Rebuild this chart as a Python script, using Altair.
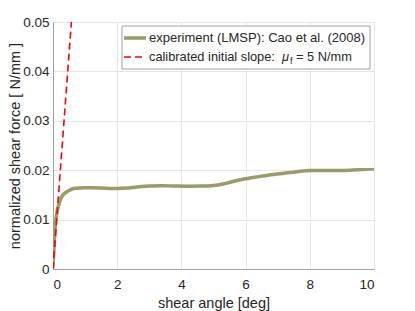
import altair as alt
import pandas as pd

# experiment (LMSP): Cao et al. (2008)
angle = [0, 0.03, 0.06, 0.1, 0.13, 0.17, 0.21, 0.27, 0.34, 0.42, 0.5, 0.6, 0.71,
         0.85, 1.0, 1.2, 1.5, 1.8, 2.0, 2.3, 2.6, 3.0, 3.4, 3.8, 4.2, 4.6, 5.0,
         5.3, 5.6, 6.0, 6.4, 6.8, 7.2, 7.6, 8.0, 8.5, 9.0, 9.5, 10.0]
force = [0.0003, 0.004, 0.0078, 0.0105, 0.0117, 0.0128, 0.0137, 0.0146, 0.0152,
         0.0156, 0.0159, 0.0162, 0.01635, 0.01642, 0.01645, 0.01643, 0.01638,
         0.01632, 0.0163, 0.01638, 0.0166, 0.01682, 0.01686, 0.0168, 0.01676,
         0.01678, 0.0169, 0.0172, 0.0177, 0.01826, 0.0187, 0.0191, 0.0194,
         0.0197, 0.01994, 0.01995, 0.01994, 0.0201, 0.0203]

# calibrated initial slope (mu_f = 5 N/mm per rad)
slope_angle = [0, 0.573]
slope_force = [0, 0.05]

x_ticks = [0, 2, 4, 6, 8, 10]
y_ticks = [0, 0.01, 0.02, 0.03, 0.04, 0.05]

legend_labels = ["experiment (LMSP): Cao et al. (2008)", "calibrated initial slope:"]

OLIVE = "#9b9a6a"
TXT = "#262626"
FONT = "Liberation Sans"

exp_df = pd.DataFrame({"angle": angle, "force": force})
slope_df = pd.DataFrame({"angle": slope_angle, "force": slope_force})
one = pd.DataFrame({"k": [0]})

xs = alt.X("angle:Q", scale=alt.Scale(domain=[0, 10], nice=False, zero=False),
           axis=alt.Axis(values=x_ticks, title="shear angle [deg]", labelPadding=8,
                         titlePadding=6, format="d"))
ys = alt.Y("force:Q", scale=alt.Scale(domain=[0, 0.05], nice=False),
           axis=alt.Axis(values=y_ticks, title="normalized shear force  [ N/mm ]",
                         labelPadding=4, titleX=-38, titleY=123.5, titleAngle=270,
                         titleAlign="center", titleBaseline="middle",
                         labelExpr="datum.value == 0 ? '0' : format(datum.value, '.2f')"))

exp_line = alt.Chart(exp_df).mark_line(color=OLIVE, strokeWidth=3.5,
                                       interpolate="monotone", clip=True).encode(x=xs, y=ys)
slope_line = alt.Chart(slope_df).mark_line(color="#ff0000", strokeWidth=1.6,
                                           strokeDash=[7, 4], clip=True).encode(x=xs, y=ys)

# legend box
box = alt.Chart(one).mark_rect(fill="white", stroke="#a0a0a0", strokeWidth=1).encode(
    x=alt.value(69), x2=alt.value(317), y=alt.value(4), y2=alt.value(47))
sample1 = alt.Chart(one).mark_rule(color=OLIVE, strokeWidth=3.5).encode(
    x=alt.value(71), x2=alt.value(93), y=alt.value(16))
sample2 = alt.Chart(one).mark_rule(color="#ff0000", strokeWidth=1.6, strokeDash=[7, 4]).encode(
    x=alt.value(71), x2=alt.value(93), y=alt.value(35))
lab1 = alt.Chart(one).mark_text(text=legend_labels[0], align="left", baseline="middle",
                                font=FONT, fontSize=13, color=TXT).encode(
    x=alt.value(96), y=alt.value(16))
lab2 = alt.Chart(one).mark_text(text=legend_labels[1], align="left", baseline="middle",
                                font=FONT, fontSize=12.8, color=TXT).encode(
    x=alt.value(96), y=alt.value(35))
mu = alt.Chart(one).mark_text(text="μ", align="left", baseline="middle", font=FONT,
                              fontStyle="italic", fontSize=12.8, color=TXT).encode(
    x=alt.value(229), y=alt.value(35))
sub = alt.Chart(one).mark_text(text="f", align="left", baseline="middle", font=FONT,
                               fontSize=9, color=TXT).encode(
    x=alt.value(237), y=alt.value(39))
rest = alt.Chart(one).mark_text(text="= 5 N/mm", align="left", baseline="middle",
                                font=FONT, fontSize=12.8, color=TXT).encode(
    x=alt.value(243), y=alt.value(35))

chart = alt.layer(exp_line, slope_line, box, sample1, sample2, lab1, lab2, mu, sub, rest).properties(
    width=321, height=247,
    autosize=alt.AutoSizeParams(type="none"),
    padding={"left": 45, "top": 14, "right": 30, "bottom": 42},
).configure_view(stroke="#a0a0a0", strokeWidth=1).configure_axis(
    labelFont=FONT, titleFont=FONT, labelFontSize=13.5, titleFontSize=14.5,
    labelColor=TXT, titleColor=TXT, titleFontWeight="normal",
    gridColor="#e6e6e6", domainColor="#a0a0a0", tickSize=0,
)

chart.save("out.html", embed_options={"renderer": "svg", "actions": False})
